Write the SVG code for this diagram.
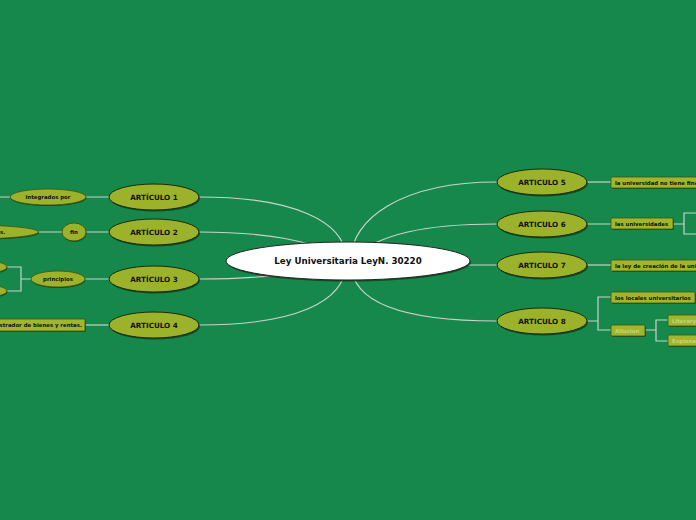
<svg xmlns="http://www.w3.org/2000/svg" width="696" height="520" viewBox="0 0 696 520">
<style>
.bg{fill:#17884C}
.c{fill:none;stroke:#C9D3C9;stroke-width:1.2}
.sh{fill:#0E3A1C;opacity:0.75}
.art{fill:#9DB22B;stroke:#1C2A0A;stroke-width:1}
.sub{fill:#9DB22B;stroke:#3D4F10;stroke-width:0.8}
.rect{fill:#A2B62D;stroke:#3D5210;stroke-width:0.8}
.rsh{fill:#0E3A1C;opacity:0.6}
.t{font-family:"DejaVu Sans","Liberation Sans",sans-serif;font-weight:bold;fill:#111;text-anchor:middle}
.tl{font-family:"DejaVu Sans","Liberation Sans",sans-serif;font-weight:bold;fill:#111}
.dim{fill:#C8D17A}
</style>
<rect class="bg" x="0" y="0" width="696" height="520"/>
<g id="connectors">
<path class="c" d="M199,197 C295,197 345,222 346,258"/>
<path class="c" d="M199,232 C265,232 310,240 345,258"/>
<path class="c" d="M199,279 C265,279 305,273 345,262"/>
<path class="c" d="M199,325 C295,325 345,302 346,264"/>
<path class="c" d="M497,182 C400,182 352,220 351,258"/>
<path class="c" d="M497,224 C425,224 380,234 351,258"/>
<path class="c" d="M460,265 L497,265"/>
<path class="c" d="M497,321 C400,321 352,302 351,264"/>
<path class="c" d="M0,197 L10,197 M86,197 L109,197"/>
<path class="c" d="M39,232 L62,232 M86,232 L109,232"/>
<path class="c" d="M85,279 L109,279 M31,279 L21,279 M7,267 L21,267 L21,291 L7,291"/>
<path class="c" d="M85,325 L109,325"/>
<path class="c" d="M587,182 L611,182"/>
<path class="c" d="M587,224 L611,224 M673,224 L684,224 M696,213 L684,213 L684,234 L696,234"/>
<path class="c" d="M587,265 L611,265"/>
<path class="c" d="M587,321 L598,321 M611,297 L598,297 L598,330 L611,330 M645,330 L656,330 M668,320 L656,320 L656,341 L668,341"/>
</g>
<g id="center">
<ellipse class="sh" cx="349" cy="262.5" rx="122" ry="19"/>
<ellipse cx="348" cy="261" rx="122" ry="19" fill="#fff" stroke="#222" stroke-width="1"/>
<text class="t" x="348" y="264" font-size="8.7">Ley Universitaria LeyN. 30220</text>
</g>
<g id="art1">
<ellipse class="sh" cx="155" cy="198.5" rx="45" ry="13"/>
<ellipse class="art" cx="154" cy="197" rx="45" ry="13"/>
<text class="t" x="154" y="200" font-size="7.2">ARTÍCULO 1</text>
</g>
<g id="art2">
<ellipse class="sh" cx="155" cy="233.5" rx="45" ry="13"/>
<ellipse class="art" cx="154" cy="232" rx="45" ry="13"/>
<text class="t" x="154" y="235" font-size="7.2">ARTÍCULO 2</text>
</g>
<g id="art3">
<ellipse class="sh" cx="155" cy="280.5" rx="45" ry="13"/>
<ellipse class="art" cx="154" cy="279" rx="45" ry="13"/>
<text class="t" x="154" y="282" font-size="7.2">ARTÍCULO 3</text>
</g>
<g id="art4">
<ellipse class="sh" cx="155" cy="326.5" rx="45" ry="13"/>
<ellipse class="art" cx="154" cy="325" rx="45" ry="13"/>
<text class="t" x="154" y="328" font-size="7.2">ARTICULO 4</text>
</g>
<g id="art5">
<ellipse class="sh" cx="543" cy="183.5" rx="45" ry="13"/>
<ellipse class="art" cx="542" cy="182" rx="45" ry="13"/>
<text class="t" x="542" y="185" font-size="7.2">ARTICULO 5</text>
</g>
<g id="art6">
<ellipse class="sh" cx="543" cy="225.5" rx="45" ry="13"/>
<ellipse class="art" cx="542" cy="224" rx="45" ry="13"/>
<text class="t" x="542" y="227" font-size="7.2">ARTICULO 6</text>
</g>
<g id="art7">
<ellipse class="sh" cx="543" cy="266.5" rx="45" ry="13"/>
<ellipse class="art" cx="542" cy="265" rx="45" ry="13"/>
<text class="t" x="542" y="268" font-size="7.2">ARTICULO 7</text>
</g>
<g id="art8">
<ellipse class="sh" cx="543" cy="322.5" rx="45" ry="13"/>
<ellipse class="art" cx="542" cy="321" rx="45" ry="13"/>
<text class="t" x="542" y="324" font-size="7.2">ARTICULO 8</text>
</g>
<g id="integrados">
<ellipse class="sh" cx="48.5" cy="198" rx="38" ry="8"/>
<ellipse class="sub" cx="48" cy="197" rx="38" ry="8"/>
<text class="t" x="48" y="199" font-size="5.4">integrados por</text>
</g>
<g id="fin">
<ellipse class="sh" cx="74.5" cy="233" rx="12" ry="9"/>
<ellipse class="sub" cx="74" cy="232" rx="12" ry="9"/>
<text class="t" x="74" y="234" font-size="5.4">fin</text>
</g>
<g id="fin-child">
<ellipse class="sh" cx="-30" cy="233" rx="69" ry="7"/>
<ellipse class="sub" cx="-30.5" cy="232" rx="69" ry="7"/>
<text class="tl" x="0" y="234" font-size="5.4">s.</text>
</g>
<g id="principios">
<ellipse class="sh" cx="58.5" cy="280" rx="27" ry="8"/>
<ellipse class="sub" cx="58" cy="279" rx="27" ry="8"/>
<text class="t" x="58" y="281" font-size="5.4">principios</text>
</g>
<g id="principio-a">
<ellipse class="sh" cx="-9.5" cy="268" rx="17" ry="5.5"/>
<ellipse class="sub" cx="-10" cy="267" rx="17" ry="5.5"/>
</g>
<g id="principio-b">
<ellipse class="sh" cx="-9.5" cy="292" rx="17" ry="5.5"/>
<ellipse class="sub" cx="-10" cy="291" rx="17" ry="5.5"/>
</g>
<g id="administrador">
<rect class="rsh" x="-40" y="320" width="126" height="12" rx="1.5"/>
<rect class="rect" x="-41" y="319" width="126" height="12" rx="1.5"/>
<text class="tl" x="82" y="327" font-size="5.4" style="text-anchor:end">administrador de bienes y rentas.</text>
</g>
<g id="a5-child">
<rect class="rsh" x="612" y="178" width="96" height="11" rx="1.5"/>
<rect class="rect" x="611" y="177" width="96" height="11" rx="1.5"/>
<text class="tl" x="615" y="184.5" font-size="5.4">la universidad no tiene fines de lucro</text>
</g>
<g id="a6-child">
<rect class="rsh" x="612" y="219" width="62" height="11" rx="1.5"/>
<rect class="rect" x="611" y="218" width="62" height="11" rx="1.5"/>
<text class="tl" x="615" y="225.5" font-size="5.4">las universidades</text>
</g>
<g id="a7-child">
<rect class="rsh" x="612" y="261" width="96" height="11" rx="1.5"/>
<rect class="rect" x="611" y="260" width="96" height="11" rx="1.5"/>
<text class="tl" x="615" y="267.5" font-size="5.4">la ley de creación de la universidad</text>
</g>
<g id="locales">
<rect class="rsh" x="612" y="293" width="84" height="11" rx="1.5"/>
<rect class="rect" x="611" y="292" width="84" height="11" rx="1.5"/>
<text class="tl" x="615" y="299.5" font-size="5.4">los locales universitarios</text>
</g>
<g id="allusion">
<rect class="rsh" x="612" y="326" width="34" height="11" rx="1.5"/>
<rect class="rect" x="611" y="325" width="34" height="11" rx="1.5"/>
<text class="tl dim" x="615" y="332.5" font-size="5.4">Allusion</text>
</g>
<g id="literary">
<rect class="rsh" x="669" y="316" width="40" height="11" rx="1.5"/>
<rect class="rect" x="668" y="315" width="40" height="11" rx="1.5"/>
<text class="tl dim" x="672" y="322.5" font-size="5.4">Literary</text>
</g>
<g id="explanation">
<rect class="rsh" x="669" y="336" width="40" height="11" rx="1.5"/>
<rect class="rect" x="668" y="335" width="40" height="11" rx="1.5"/>
<text class="tl dim" x="672" y="342.5" font-size="5.4">Explanation</text>
</g>
</svg>
